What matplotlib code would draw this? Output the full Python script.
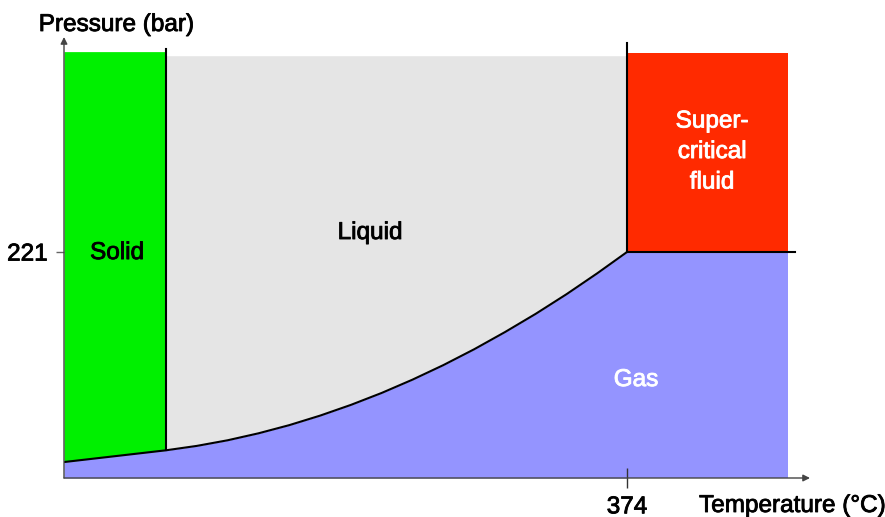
import matplotlib
matplotlib.use("Agg")
import matplotlib.pyplot as plt
import matplotlib.patheffects as pe
import numpy as np

plt.rcParams['font.family'] = ['Liberation Sans', 'DejaVu Sans']

# ---- data ----
# solid-gas / liquid-gas coexistence curve (temperature °C, pressure bar)
curve_T = [-82.8, 0, 25, 50, 75, 100, 125, 150, 175, 200, 225, 250, 275,
           300, 325, 350, 374]
curve_P = [15.6, 27.1, 31.4, 36.9, 43.7, 51.7, 61.0, 71.5, 83.2, 96.2,
           110.4, 125.9, 142.7, 160.6, 179.8, 200.3, 221]

T_min = -82.8       # left end of the temperature axis
T_melt = 0          # solid/liquid boundary
T_crit = 374        # critical temperature
T_max = 505         # right end of the coloured area
T_axis_end = 522.5
P_crit = 221        # critical pressure
P_top_solid = 417
P_top_liquid = 413
P_top_scf = 415.6
P_top_melt_line = 419.6
P_top_crit_line = 425
P_axis_end = 431.3

xtick_vals = [374]
xtick_labels = ["374"]
ytick_vals = [221]
ytick_labels = ["221"]

region_names = ["Solid", "Liquid", "Super-\ncritical\nfluid", "Gas"]
region_T = [-39.8, 165.5, 443, 381.3]
region_P = [220, 239.6, 318.8, 95.8]
region_colors = ["black", "black", "white", "white"]

c_solid = "#00f000"
c_liquid = "#e5e5e5"
c_scf = "#ff2a00"
c_gas = "#9494ff"

FS = 17.5


def heavy(color):
    return [pe.withStroke(linewidth=0.6, foreground=color)]


# ---- figure ----
fig = plt.figure(figsize=(8.85, 5.17), dpi=100)
ax = fig.add_axes([64/885, 39/517, 746/885, 441/517])
ax.set_xlim(T_min, T_axis_end)
ax.set_ylim(0, P_axis_end)

cT = np.array(curve_T)
cP = np.array(curve_P)

# gas region
ax.fill_between(cT, 0, cP, color=c_gas, lw=0)
ax.fill_between([T_crit, T_max], 0, P_crit, color=c_gas, lw=0)

# solid region
m_solid = cT <= T_melt
ax.fill_between(cT[m_solid], cP[m_solid], P_top_solid, color=c_solid, lw=0)
# liquid region
m_liq = cT >= T_melt
ax.fill_between(cT[m_liq], cP[m_liq], P_top_liquid, color=c_liquid, lw=0)
# supercritical region
ax.fill_between([T_crit, T_max], P_crit, P_top_scf, color=c_scf, lw=0)

# boundary lines
ax.plot(cT, cP, color="black", lw=1.5, solid_joinstyle='round')
P_at_melt = np.interp(T_melt, cT, cP)
ax.plot([T_melt, T_melt], [P_at_melt, P_top_melt_line], color="black", lw=1.5)
ax.plot([T_crit, T_crit], [P_crit, P_top_crit_line], color="black", lw=1.5)
ax.plot([T_crit, T_max + 5], [P_crit, P_crit], color="black", lw=1.5)

# axes with arrows
for s in ax.spines.values():
    s.set_visible(False)
ax.annotate('', xy=(1, 0), xytext=(0, 0), xycoords='axes fraction',
            arrowprops=dict(arrowstyle='-|>', color='#444444', lw=1.0,
                            mutation_scale=10, shrinkA=0, shrinkB=0))
ax.annotate('', xy=(0, 1), xytext=(0, 0), xycoords='axes fraction',
            arrowprops=dict(arrowstyle='-|>', color='#444444', lw=1.0,
                            mutation_scale=10, shrinkA=0, shrinkB=0))

ax.set_xticks(xtick_vals)
ax.set_xticklabels(xtick_labels)
ax.set_yticks(ytick_vals)
ax.set_yticklabels(ytick_labels)
ax.tick_params(axis='x', direction='inout', length=14.4, width=1,
               color='#333333', labelsize=FS, pad=6)
ax.tick_params(axis='y', direction='out', length=5.8, width=1,
               color='#666666', labelsize=FS, pad=6)
for lab in ax.get_xticklabels() + ax.get_yticklabels():
    lab.set_path_effects(heavy('black'))

# region labels
for name, t, p, c in zip(region_names, region_T, region_P, region_colors):
    ax.text(t, p, name, ha='center', va='center', fontsize=FS,
            color=c, linespacing=1.5, path_effects=heavy(c))

# axis titles
fig.text(116/885, 1 - 25/517, "Pressure (bar)", ha='center', va='center',
         fontsize=FS, path_effects=heavy('black'))
fig.text(792/885, 1 - 506/517, "Temperature (°C)", ha='center', va='center',
         fontsize=FS, path_effects=heavy('black'))

fig.savefig("out.png", dpi=100)
